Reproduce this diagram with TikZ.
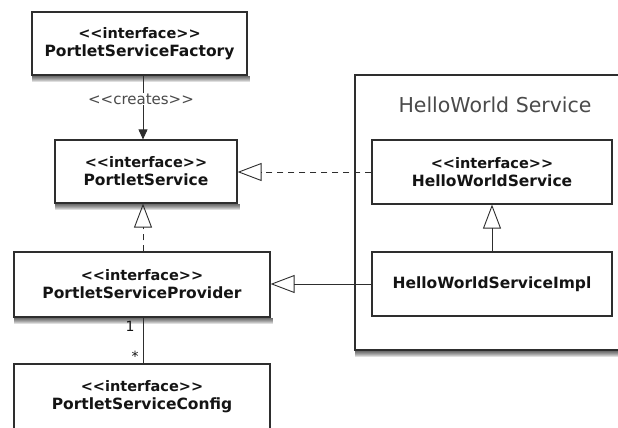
\documentclass[tikz,border=0pt]{standalone}
\usepackage{fontspec}
\setmainfont{DejaVu Sans}[Ligatures=TeXOff]
\usetikzlibrary{arrows.meta,calc,backgrounds}
\definecolor{linegray}{HTML}{2E2E2E}
\definecolor{textgray}{HTML}{141414}
\definecolor{labelgray}{HTML}{4A4A4A}
\tikzset{
  umlbox/.style={draw=linegray, line width=1.2pt, fill=white, rectangle,
    align=center, inner sep=0pt, text=textgray,
    font=\fontsize{15.5}{18}\selectfont\bfseries},
  conn/.style={draw=linegray, line width=0.9pt},
  realize/.style={conn, dashed, dash pattern=on 6pt off 5pt,
    -{Triangle[open, length=24pt, width=18pt, line width=0.9pt]}},
  generalize/.style={conn,
    -{Triangle[open, length=24pt, width=18pt, line width=0.9pt]}},
  creates/.style={conn, -{Triangle[length=10pt, width=9pt]}},
  mult/.style={font=\fontsize{14}{16}\selectfont, text=textgray},
  softshadow/.style={fill=black, opacity=0.13}
}
\newcommand{\stereo}{{\fontsize{14.5}{18}\selectfont <<interface>>}}
% soft shadow band under the bottom edge of a node
\newcommand{\shadowunder}[1]{%
  \foreach \d in {1,2,3,4,5,6}
    \fill[softshadow] ([xshift=1pt]#1.south west) rectangle ([xshift=2pt,yshift=-\d pt]#1.south east);}
\begin{document}
\begin{tikzpicture}[x=1pt, y=-1pt]
  \useasboundingbox (0,0) rectangle (618,428);

  % HelloWorld service container (runs past the right edge)
  \node[umlbox, minimum width=273pt, minimum height=275pt] (container) at (491.5,212.5) {};
  \node[text=labelgray, font=\fontsize{20.5}{24}\selectfont] (title) at (495,105) {HelloWorld Service};

  % classes
  \node[umlbox, minimum width=215pt, minimum height=63pt] (factory) at (139.5,43.5)
    {\stereo\\PortletServiceFactory};
  \node[umlbox, minimum width=182pt, minimum height=63pt] (ps) at (146,171.5)
    {\stereo\\PortletService};
  \node[umlbox, minimum width=256pt, minimum height=65pt] (provider) at (142,284.5)
    {\stereo\\PortletServiceProvider};
  \node[umlbox, minimum width=256pt, minimum height=66pt] (config) at (142,397)
    {\stereo\\PortletServiceConfig};
  \node[umlbox, minimum width=240pt, minimum height=64pt] (hws) at (492,172)
    {\stereo\\HelloWorldService};
  \node[umlbox, minimum width=240pt, minimum height=64pt] (impl) at (492,284)
    {HelloWorldServiceImpl};

  \begin{scope}[on background layer]
    \fill[white] (0,0) rectangle (618,428);
    \shadowunder{container}
    \shadowunder{factory}
    \shadowunder{ps}
    \shadowunder{provider}
  \end{scope}

  % factory creates service
  \coordinate (cf) at ([xshift=3.5pt]factory.south);
  \draw[creates] (cf) -- (cf |- ps.north);
  \node[text=labelgray, fill=white, inner sep=1pt, font=\fontsize{15}{18}\selectfont] (clabel) at (141,99) {<<creates>>};

  % realizations and generalizations
  \draw[realize] (hws.west) -- (hws.west -| ps.east);
  \coordinate (pv) at ([xshift=1pt]provider.north);
  \draw[realize] (pv) -- (pv |- ps.south);
  \draw[generalize] (impl.west) -- (impl.west -| provider.east);
  \draw[generalize] (impl.north) -- (hws.south);

  % provider -- config association
  \draw[conn] (pv |- provider.south) -- (pv |- config.north);
  \node[mult] (m1) at (130,326) {1};
  \node[mult] (m2) at (135,356) {*};
\end{tikzpicture}
\end{document}
